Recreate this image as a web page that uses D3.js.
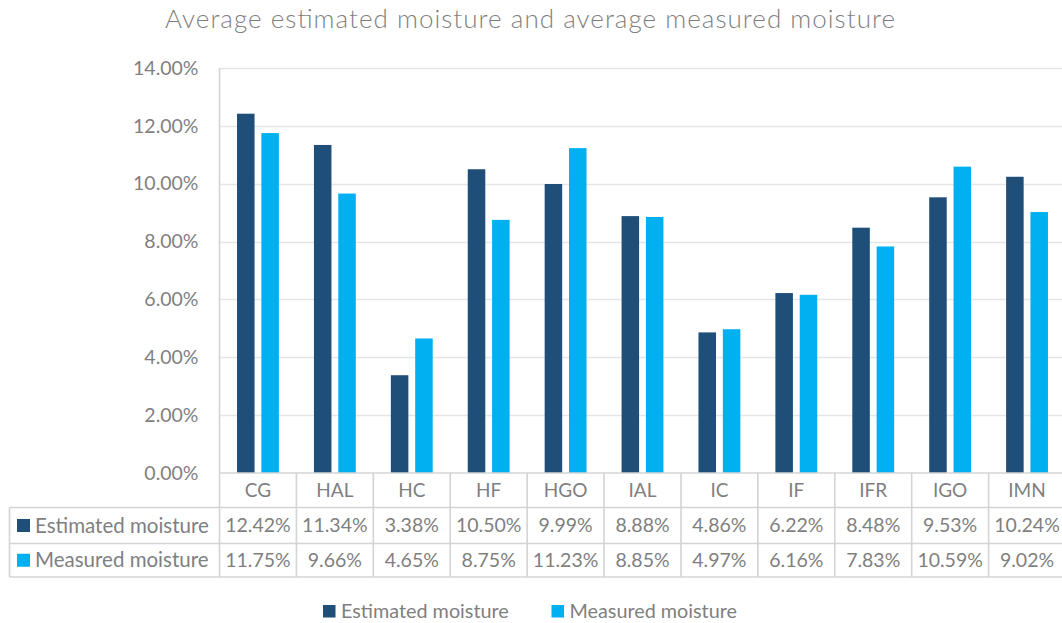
<!DOCTYPE html>
<html>
<head>
<meta charset="utf-8">
<script src="https://cdn.jsdelivr.net/npm/d3@7"></script>
<style>
  html, body { margin: 0; padding: 0; background: #fff; }
  svg { display: block; }
  text { font-family: Lato, "Open Sans", sans-serif; fill: #7f7f7f; }
</style>
</head>
<body>
<svg id="chart" width="1062" height="623"></svg>
<script>
// Sites and their average moisture values (percent)
const categories = ["CG", "HAL", "HC", "HF", "HGO", "IAL", "IC", "IF", "IFR", "IGO", "IMN"];
const estimated = [12.42, 11.34, 3.38, 10.50, 9.99, 8.88, 4.86, 6.22, 8.48, 9.53, 10.24];
const measured  = [11.75, 9.66, 4.65, 8.75, 11.23, 8.85, 4.97, 6.16, 7.83, 10.59, 9.02];
const seriesNames = ["Estimated moisture", "Measured moisture"];
const seriesColors = ["#1f4e79", "#00b0f0"];
const yTicks = [0, 2, 4, 6, 8, 10, 12, 14];
const title = "Average estimated moisture and average measured moisture";

const series = [estimated, measured];
const svg = d3.select("#chart");
const W = 1062, H = 623;

const plot = { left: 219.5, right: 1065.5, top: 68, bottom: 473 };
const tableRows = [473, 507.5, 543.5, 577];
const tableLeft = 9.5;
const gridColor = "#e5e5e5";
const lineColor = "#d4d4d4";

const x = d3.scaleBand().domain(categories).range([plot.left, plot.right]);
const y = d3.scaleLinear().domain([0, 14]).range([plot.bottom, plot.top]);
const xs = d3.scaleBand().domain(d3.range(series.length))
  .range([0, x.bandwidth()]).paddingOuter(0.72).paddingInner(0.28);

// Title
svg.append("text")
  .attr("x", 165).attr("y", 28)
  .attr("textLength", 730).attr("lengthAdjust", "spacing")
  .style("font-size", "26px").style("font-weight", 300)
  .text(title);

// Horizontal gridlines
svg.append("g").selectAll("line").data(yTicks.filter(d => d > 0)).join("line")
  .attr("x1", plot.left).attr("x2", W)
  .attr("y1", d => Math.round(y(d)) + 0.5).attr("y2", d => Math.round(y(d)) + 0.5)
  .attr("stroke", gridColor).attr("stroke-width", 1.3);

// Y axis labels
const yAxis = d3.axisLeft(y).tickValues(yTicks)
  .tickFormat(d => d3.format(".2f")(d) + "%").tickSize(0).tickPadding(21);
const yg = svg.append("g").attr("transform", `translate(${plot.left},0)`).call(yAxis);
yg.select(".domain").remove();
yg.selectAll("text").style("font-size", "19.5px").style("font-family", "Lato, sans-serif").attr("fill", "#7f7f7f");

// Bars
const groups = svg.append("g").selectAll("g").data(categories).join("g")
  .attr("transform", d => `translate(${x(d)},0)`);
groups.selectAll("rect")
  .data((d, i) => series.map((s, k) => ({ k, v: s[i] })))
  .join("rect")
  .attr("x", d => xs(d.k))
  .attr("width", xs.bandwidth())
  .attr("y", d => y(d.v))
  .attr("height", d => y(0) - y(d.v))
  .attr("fill", d => seriesColors[d.k]);

// Data table grid
const tg = svg.append("g").attr("stroke", lineColor).attr("stroke-width", 1.6).attr("fill", "none");
// vertical axis line through the table
tg.append("line").attr("x1", plot.left).attr("x2", plot.left).attr("y1", plot.top).attr("y2", tableRows[3]);
// horizontal rules
tg.append("line").attr("x1", plot.left).attr("x2", W).attr("y1", tableRows[0]).attr("y2", tableRows[0]);
[1, 2, 3].forEach(r => {
  tg.append("line").attr("x1", tableLeft).attr("x2", W).attr("y1", tableRows[r]).attr("y2", tableRows[r]);
});
tg.append("line").attr("x1", tableLeft).attr("x2", tableLeft).attr("y1", tableRows[1]).attr("y2", tableRows[3]);
// column separators
tg.selectAll("line.col").data(categories).join("line").attr("class", "col")
  .attr("x1", d => x(d) + x.bandwidth()).attr("x2", d => x(d) + x.bandwidth())
  .attr("y1", tableRows[0]).attr("y2", tableRows[3]);

// Category labels (header row)
svg.append("g").selectAll("text").data(categories).join("text")
  .attr("x", d => x(d) + x.bandwidth() / 2)
  .attr("y", (tableRows[0] + tableRows[1]) / 2)
  .attr("dy", "0.35em").attr("text-anchor", "middle")
  .style("font-size", "19px")
  .text(d => d);

// Value rows
series.forEach((s, k) => {
  const cy = (tableRows[k + 1] + tableRows[k + 2]) / 2;
  svg.append("rect").attr("x", 17).attr("y", cy - 6.5).attr("width", 13).attr("height", 13)
    .attr("fill", seriesColors[k]);
  svg.append("text").attr("x", 35).attr("y", cy).attr("dy", "0.35em")
    .style("font-size", "20.5px").text(seriesNames[k]);
  svg.append("g").selectAll("text").data(categories).join("text")
    .attr("x", d => x(d) + x.bandwidth() / 2)
    .attr("y", cy).attr("dy", "0.35em").attr("text-anchor", "middle")
    .style("font-size", "19.5px")
    .text((d, i) => d3.format(".2f")(s[i]) + "%");
});

// Legend
const legendItems = [{ k: 0, x: 323 }, { k: 1, x: 551.5 }];
legendItems.forEach(item => {
  svg.append("rect").attr("x", item.x).attr("y", 605).attr("width", 12.5).attr("height", 12.5)
    .attr("fill", seriesColors[item.k]);
  svg.append("text").attr("x", item.x + 18).attr("y", 611).attr("dy", "0.35em")
    .style("font-size", "19.8px").text(seriesNames[item.k]);
});
</script>
</body>
</html>
